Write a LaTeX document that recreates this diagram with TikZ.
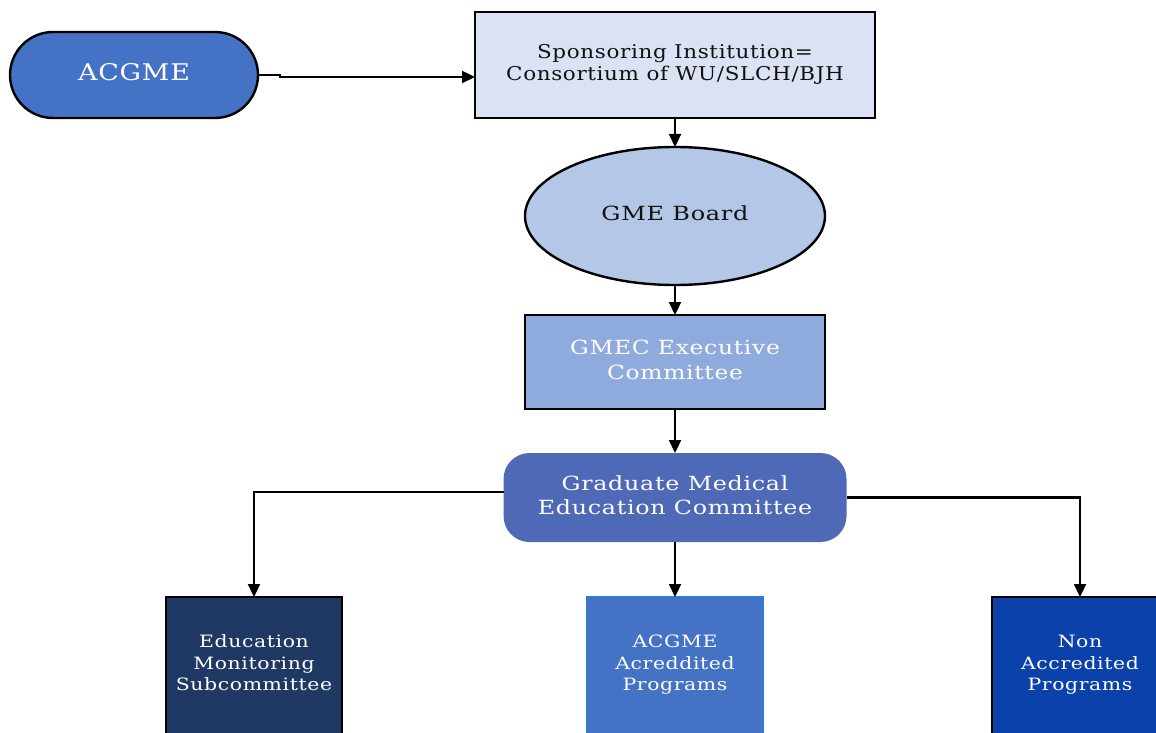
\documentclass[tikz,border=0pt]{standalone}
\usepackage{fontspec}
\usepackage{graphicx}
\setmainfont{DejaVu Serif}
\usetikzlibrary{shapes.geometric,arrows.meta}
\definecolor{cAcgme}{HTML}{4472C4}
\definecolor{cSpons}{HTML}{DAE2F3}
\definecolor{cBoard}{HTML}{B4C7E7}
\definecolor{cGmec}{HTML}{8FAADC}
\definecolor{cGmed}{HTML}{4E69B6}
\definecolor{cEms}{HTML}{203864}
\definecolor{cAcc}{HTML}{4472C4}
\definecolor{cAccLine}{HTML}{2E7BD0}
\definecolor{cNon}{HTML}{0A41AA}
\definecolor{cText}{HTML}{111111}
\newcommand\wt[2]{\scalebox{#1}[1]{\begin{tabular}{@{}c@{}}#2\end{tabular}}}
\newcommand\lowtxt[1]{\raisebox{6pt}[\height][\depth]{#1}}
\newcommand\fnt[3]{\fontsize{#1}{#2}\selectfont\addfontfeature{LetterSpace=#3}}
\begin{document}
\begin{tikzpicture}[x=1pt,y=-1pt,
  every node/.style={inner sep=0pt, outer sep=0pt},
  boxline/.style={draw=black, line width=2.4pt},
  conn/.style={line width=2.2pt, -{Triangle[length=13pt,width=12pt]}},
  bottombox/.style={boxline, minimum width=176pt, minimum height=148pt, text=white,
    font=\fnt{17}{21.5}{3}}
]
\useasboundingbox (0,0) rectangle (1156,733);
\fill[white] (0,0) rectangle (1156,733);

\node[boxline, fill=cAcgme, rounded corners=43pt, minimum width=248pt, minimum height=86pt,
  text=white, font=\fnt{23}{28}{3}] (acgme) at (134,75) {\wt{1.17}{ACGME}};

\node[boxline, fill=cSpons, minimum width=400pt, minimum height=106pt,
  text=cText, font=\fnt{19}{22}{3}] (spons) at (675,65)
  {\wt{1.13}{Sponsoring Institution=\\Consortium of WU/SLCH/BJH}};

\node[boxline, fill=cBoard, ellipse, minimum width=300pt, minimum height=138pt,
  text=cText, font=\fnt{19.5}{24}{3}] (gme) at (675,216) {\wt{1.23}{GME Board}};

\node[boxline, fill=cGmec, minimum width=300pt, minimum height=94pt,
  text=white, font=\fnt{19.5}{24.5}{3}] (gmec) at (675,362)
  {\wt{1.2}{GMEC Executive\\Committee}};

\node[fill=cGmed, rounded corners=26pt, minimum width=343pt, minimum height=89pt,
  text=white, font=\fnt{19.5}{24}{3}] (gmed) at (675,497.5)
  {\wt{1.22}{Graduate Medical\\Education Committee}};

\node[bottombox, fill=cEms] (ems) at (254,671)
  {\lowtxt{\wt{1.2}{Education\\Monitoring\\Subcommittee}}};
\node[bottombox, fill=cAcc, draw=cAccLine] (acc) at (675,671)
  {\lowtxt{\wt{1.2}{ACGME\\Acreddited\\Programs}}};
\node[bottombox, fill=cNon] (non) at (1080,671)
  {\lowtxt{\wt{1.2}{Non\\Accredited\\Programs}}};

\coordinate (j1) at (280,75);
\coordinate (j2) at (280,77);
\draw[conn] (acgme.east) -- (j1) -- (j2) -- (spons.west |- j2);
\draw[conn] (spons.south) -- (gme.north);
\draw[conn] (gme.south) -- (gmec.north);
\draw[conn] (gmec.south) -- (gmed.north);
\draw[conn] ([yshift=5.5pt]gmed.west) -| (ems.north);
\draw[conn] (gmed.east) -| (non.north);
\draw[conn] (gmed.south) -- (acc.north);
\end{tikzpicture}
\end{document}
